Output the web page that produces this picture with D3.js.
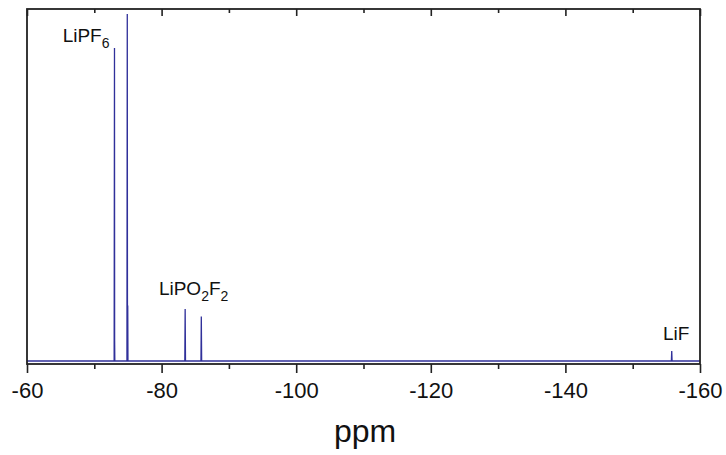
<!DOCTYPE html>
<html><head><meta charset="utf-8">
<script src="https://cdn.jsdelivr.net/npm/d3@7"></script>
<style>body{margin:0;background:#fff}svg{display:block}</style>
</head><body>
<svg id="c" width="726" height="455"></svg>
<script>
// Spectrum points (ppm, intensity)
const ppm = [-60, -72.95, -73.0, -73.02, -73.05, -74.85, -74.9, -74.93, -74.97, -75.0, -83.45, -83.5, -83.55, -85.85, -85.9, -85.95, -155.75, -155.8, -155.85, -160];
const intensity = [0, 0, 90.2, 6, 0, 0, 100, 0, 16, 0, 0, 15.0, 0, 0, 12.8, 0, 0, 2.9, 0, 0];
const majorTicks = [-60, -80, -100, -120, -140, -160];
const minorTicks = [-70, -90, -110, -130, -150];
const labels = [
  {t: "LiPF", sub: ["6"], ppm: -65.3, y: 92},
  {t: "LiPO", sub: ["2", "F", "2"], ppm: -79.6, y: 18.9},
  {t: "LiF", sub: [], ppm: -154.5, y: 6.0}
];

const svg = d3.select("#c");
const L = 27, R = 700, T = 9, B = 364;
const x = d3.scaleLinear().domain([-60, -160]).range([L, R]);
const y = d3.scaleLinear().domain([0, 100]).range([361, 14]);
const font = "'Liberation Sans', Arial, Helvetica, sans-serif";

// spectrum
const pts = ppm.map((p, i) => [p, intensity[i]]);
svg.append("path").datum(pts)
  .attr("d", d3.line().x(d => x(d[0])).y(d => y(d[1])))
  .attr("fill", "none").attr("stroke", "#30309a").attr("stroke-width", 1.3);

// frame
svg.append("rect").attr("x", L).attr("y", T).attr("width", R - L).attr("height", B - T)
  .attr("fill", "none").attr("stroke", "#222").attr("stroke-width", 1.8);

// bottom axis: major with labels
const gB = svg.append("g").attr("transform", `translate(0,${B})`)
  .call(d3.axisBottom(x).tickValues(majorTicks).tickSize(9).tickFormat(d => "-" + Math.abs(d)));
gB.selectAll(".domain").remove();
gB.selectAll("line").attr("stroke", "#222").attr("stroke-width", 1.6);
gB.selectAll("text").attr("font-family", font).attr("font-size", 22).attr("fill", "#111")
  .attr("y", 18);
// bottom minor
const gBm = svg.append("g").attr("transform", `translate(0,${B})`)
  .call(d3.axisBottom(x).tickValues(minorTicks).tickSize(5).tickFormat(""));
gBm.selectAll(".domain").remove();
gBm.selectAll("line").attr("stroke", "#222").attr("stroke-width", 1.6);

// top ticks (inward)
[[majorTicks, 7], [minorTicks, 4]].forEach(([vals, sz]) => {
  const g = svg.append("g").attr("transform", `translate(0,${T})`)
    .call(d3.axisBottom(x).tickValues(vals).tickSize(sz).tickFormat(""));
  g.selectAll(".domain").remove();
  g.selectAll("line").attr("stroke", "#222").attr("stroke-width", 1.6);
});

// x-axis title
svg.append("text").attr("x", 365).attr("y", 442).attr("text-anchor", "middle")
  .attr("font-family", font).attr("font-size", 32).attr("fill", "#111").text("ppm");

// peak labels
labels.forEach(l => {
  const t = svg.append("text").attr("x", x(l.ppm)).attr("y", y(l.y))
    .attr("font-family", font).attr("font-size", 19).attr("fill", "#111");
  t.append("tspan").text(l.t);
  l.sub.forEach(s => {
    const isDigit = /\d/.test(s);
    t.append("tspan").text(s)
      .attr("font-size", isDigit ? 14 : 19)
      .attr("dy", isDigit ? 6 : -6);
  });
});
</script>
</body></html>
